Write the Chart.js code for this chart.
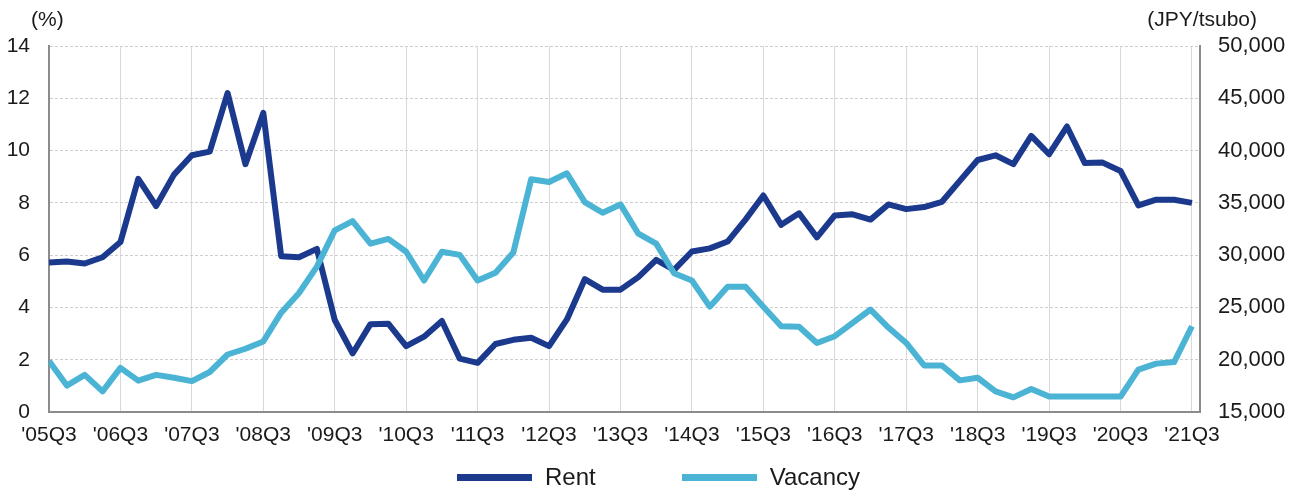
<!DOCTYPE html>
<html>
<head>
<meta charset="utf-8">
<script src="https://cdn.jsdelivr.net/npm/chart.js@4.4.1/dist/chart.umd.min.js"></script>
<style>
  html, body { margin: 0; padding: 0; background: #ffffff; }
  #wrap { position: relative; width: 1295px; height: 491px; }
  #legend {
    position: absolute; left: 0; top: 463px; width: 1295px; padding-left: 22px; box-sizing: border-box;
    display: flex; justify-content: center; align-items: center;
    font-family: "Liberation Sans", Arial, sans-serif; font-size: 24px; color: #1a1a1a;
  }
  .item { display: flex; align-items: center; margin: 0 43px; }
  .swatch { width: 75px; height: 7px; margin-right: 13px; }
</style>
</head>
<body>
<div id="wrap">
  <canvas id="office_chart" width="1295" height="491"></canvas>
  <div id="legend"></div>
</div>
<script>
// quarterly, '05Q3 .. '21Q3
var quarterLabels = ["'05Q3", "'06Q3", "'07Q3", "'08Q3", "'09Q3", "'10Q3", "'11Q3", "'12Q3", "'13Q3",
    "'14Q3", "'15Q3", "'16Q3", "'17Q3", "'18Q3", "'19Q3", "'20Q3", "'21Q3"];

// JPY/tsubo, right axis
var rentValues = [29300, 29400, 29200, 29800, 31250, 37300, 34700, 37700, 39550, 39900, 45500, 38700,
    43600, 29900, 29800, 30600, 23800, 20600, 23400, 23450, 21300, 22200, 23700, 20100,
    19700, 21500, 21900, 22100, 21300, 23850, 27700, 26700, 26700, 27900, 29550, 28600,
    30350, 30650, 31300, 33400, 35700, 32900, 34000, 31700, 33800, 33900, 33400, 34850,
    34400, 34600, 35100, 37100, 39100, 39550, 38700, 41400, 39650, 42300, 38800, 38850,
    38050, 34750, 35300, 35300, 35000];

// %, left axis
var vacancyValues = [1.95, 1.01, 1.42, 0.79, 1.69, 1.20, 1.42, 1.31, 1.18, 1.53, 2.20, 2.42,
    2.70, 3.80, 4.55, 5.56, 6.95, 7.30, 6.44, 6.62, 6.13, 5.03, 6.13, 6.01,
    5.03, 5.33, 6.10, 8.90, 8.80, 9.13, 8.03, 7.62, 7.94, 6.82, 6.44, 5.31,
    5.03, 4.03, 4.79, 4.79, 4.03, 3.28, 3.26, 2.64, 2.90, 3.41, 3.92, 3.23,
    2.64, 1.78, 1.78, 1.21, 1.31, 0.79, 0.56, 0.88, 0.59, 0.59, 0.59, 0.59,
    0.59, 1.62, 1.85, 1.91, 3.28];

var seriesNames = ['Rent', 'Vacancy'];
var seriesColors = ['#1B3A8E', '#4BB4D5'];

function toPoints(values) {
    return values.map(function (v, i) { return { x: i, y: v }; });
}

var unitLabels = {
    id: 'unitLabels',
    afterDraw: function (chart) {
        var ctx = chart.ctx;
        ctx.save();
        ctx.font = '21px "Liberation Sans", Arial, sans-serif';
        ctx.fillStyle = '#1a1a1a';
        ctx.textBaseline = 'middle';
        ctx.textAlign = 'left';
        ctx.fillText('(%)', 31, 20);
        ctx.textAlign = 'right';
        ctx.fillText('(JPY/tsubo)', 1257, 20);
        ctx.restore();
    }
};

function drawOfficeChart() {
    var element = document.getElementById('office_chart');
    if (!element) {
        return;
    }

    var tickFont = { family: '"Liberation Sans", Arial, sans-serif', size: 21 };

    var config = {
        type: 'line',
        data: {
            datasets: [{
                label: seriesNames[0],
                data: toPoints(rentValues),
                yAxisID: 'y1',
                borderColor: seriesColors[0],
                backgroundColor: seriesColors[0],
                borderWidth: 6,
                pointRadius: 0,
                tension: 0,
                borderJoinStyle: 'round',
                order: 1
            }, {
                label: seriesNames[1],
                data: toPoints(vacancyValues),
                yAxisID: 'y',
                borderColor: seriesColors[1],
                backgroundColor: seriesColors[1],
                borderWidth: 6,
                pointRadius: 0,
                tension: 0,
                borderJoinStyle: 'round',
                order: 0
            }]
        },
        options: {
            responsive: false,
            animation: false,
            layout: {
                padding: { left: 0, right: 0, top: 46, bottom: 39 }
            },
            plugins: {
                legend: { display: false },
                tooltip: { enabled: false }
            },
            scales: {
                x: {
                    type: 'linear',
                    min: 0,
                    max: 64.45,
                    afterFit: function (scale) { scale.height = 40; },
                    ticks: {
                        stepSize: 4,
                        includeBounds: false,
                        autoSkip: false,
                        maxRotation: 0,
                        padding: 11,
                        color: '#1a1a1a',
                        font: tickFont,
                        callback: function (val) { return quarterLabels[val / 4]; }
                    },
                    grid: {
                        color: '#d9d9d9',
                        lineWidth: 1,
                        drawTicks: false
                    },
                    border: { display: true, color: '#8c8c8c', width: 2 }
                },
                y: {
                    position: 'left',
                    min: 0,
                    max: 14,
                    afterFit: function (scale) { scale.width = 49; },
                    ticks: {
                        stepSize: 2,
                        padding: 19,
                        color: '#1a1a1a',
                        font: tickFont
                    },
                    grid: {
                        color: '#cfcfcf',
                        lineWidth: 1,
                        drawTicks: false
                    },
                    border: { display: true, color: '#8c8c8c', width: 2, dash: [3, 2] }
                },
                y1: {
                    position: 'right',
                    min: 15000,
                    max: 50000,
                    afterFit: function (scale) { scale.width = 95; },
                    ticks: {
                        stepSize: 5000,
                        padding: 18,
                        color: '#1a1a1a',
                        font: { family: '"Liberation Sans", Arial, sans-serif', size: 22 },
                        callback: function (val) { return val.toLocaleString('en-US'); }
                    },
                    grid: { display: false, drawTicks: false },
                    border: { display: true, color: '#8c8c8c', width: 2 }
                }
            }
        },
        plugins: [unitLabels]
    };

    new Chart(element, config);

    var legend = document.getElementById('legend');
    seriesNames.forEach(function (name, i) {
        var item = document.createElement('div');
        item.className = 'item';
        var sw = document.createElement('span');
        sw.className = 'swatch';
        sw.style.background = seriesColors[i];
        var txt = document.createElement('span');
        txt.textContent = name;
        item.appendChild(sw);
        item.appendChild(txt);
        legend.appendChild(item);
    });
}

drawOfficeChart();
</script>
</body>
</html>
